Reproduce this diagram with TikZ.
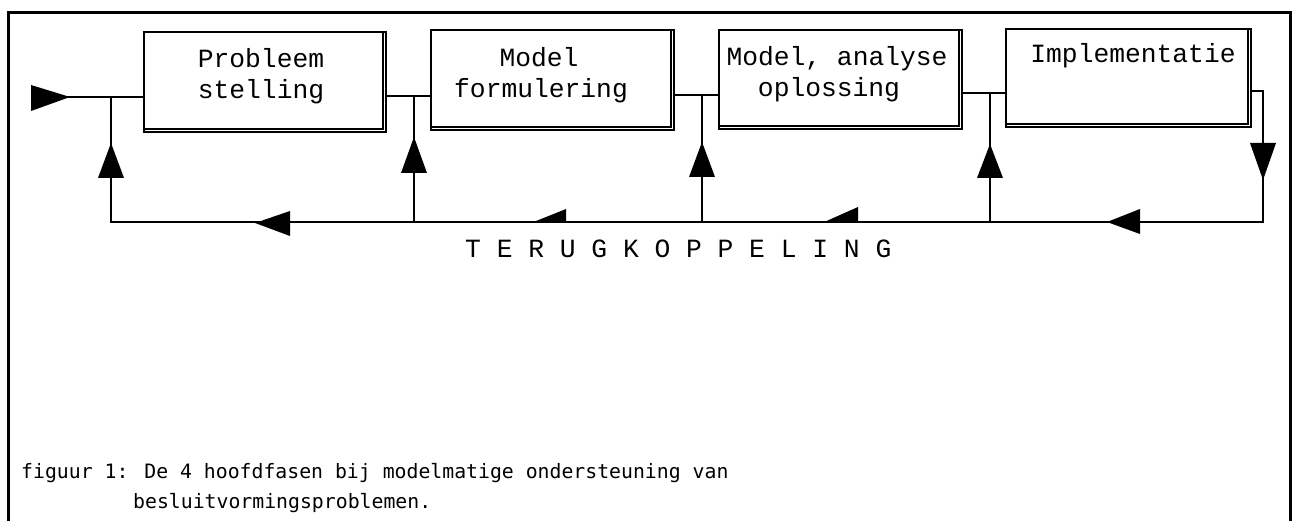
\documentclass[tikz,border=0pt]{standalone}
\usepackage{fontspec}
\newfontfamily\boxfont{Liberation Mono}
\newfontfamily\capfont{DejaVu Sans Mono}
\begin{document}
\begin{tikzpicture}[x=1pt,y=-1pt,
  box/.style={draw, line width=2pt, rectangle, anchor=north west, inner sep=0pt},
  conn/.style={line width=2pt},
  tri/.style={fill=black},
  btxt/.style={font=\boxfont\fontsize{26.3}{30}\selectfont, anchor=base, inner sep=0pt},
  ctxt/.style={font=\capfont\fontsize{19.8}{24}\selectfont, anchor=base west, inner sep=0pt}]
\useasboundingbox (0,0) rectangle (1293,521);
% frame
\draw[line width=3pt] (8,521) -- (8,13) -- (1290,13) -- (1290,521);
% boxes
\node[box, minimum width=242pt, minimum height=100pt] (b1) at (143,31) {};
\node[box, minimum width=243pt, minimum height=100pt] (b2) at (430,29) {};
\node[box, minimum width=243pt, minimum height=99pt] (b3) at (718,29) {};
\node[box, minimum width=245pt, minimum height=98pt] (b4) at (1005,28) {};
\foreach \b in {b1,b2,b3,b4}{
  \draw[line width=1.5pt] ([xshift=-4pt,yshift=-2pt]\b.north east) -- ([xshift=-4pt,yshift=4pt]\b.south east) -- ([xshift=2pt,yshift=4pt]\b.south west);
}
% texts
\node[btxt] (t1a) at (261,68) {Probleem};
\node[btxt] (t1b) at (261,99) {stelling};
\node[btxt] (t2a) at (539,67) {Model};
\node[btxt] (t2b) at (541,98) {formulering};
\node[btxt] (t3a) at (837,66) {Model, analyse};
\node[btxt] (t3b) at (829,97) {oplossing};
\node[btxt] (t4a) at (1133,63) {Implementatie};
% coordinates
\coordinate (in) at (31,97);
\coordinate (j1) at (111,97);
\coordinate (j2) at (414,96);
\coordinate (j3) at (702,95);
\coordinate (j4) at (990,93);
\coordinate (r1) at (1263,91);
\coordinate (r2) at (1263,222);
\coordinate (c1) at (111,222);
% connectors
\draw[conn] (in) -- (j1 -| b1.west);
\draw[conn] (b1.east |- j2) -- (j2 -| b2.west);
\draw[conn] (b2.east |- j3) -- (j3 -| b3.west);
\draw[conn] (b3.east |- j4) -- (j4 -| b4.west);
\draw[conn] (b4.east |- r1) -- (r1) -- (r2) -- (c1) -- (j1);
\draw[conn] (j2) -- (j2 |- c1);
\draw[conn] (j3) -- (j3 |- c1);
\draw[conn] (j4) -- (j4 |- c1);
% arrowheads
\fill[tri] (70,97) -- (31,85) -- (31,111) -- cycle;
\fill[tri] (111,143) -- (98,178) -- (124,178) -- cycle;
\fill[tri] (414,137) -- (401,173) -- (427,173) -- cycle;
\fill[tri] (702,142) -- (689,177) -- (715,177) -- cycle;
\fill[tri] (990,144) -- (977,178) -- (1003,178) -- cycle;
\fill[tri] (1263,180) -- (1250,143) -- (1276,143) -- cycle;
\fill[tri] (1107,222) -- (1140,209) -- (1140,234) -- cycle;
\fill[tri] (255,223) -- (290,211) -- (290,236) -- cycle;
\fill[tri] (531,223) -- (566,209) -- (566,223) -- cycle;
\fill[tri] (822,223) -- (858,207) -- (858,223) -- cycle;
% label
\node[btxt, anchor=base west] (fb) at (465,258) {T E R U G K O P P E L I N G};
% caption
\node[ctxt] (cap1) at (21,478) {figuur 1: De 4 hoofdfasen bij modelmatige ondersteuning van};
\node[ctxt] (cap2) at (133,508) {besluitvormingsproblemen.};
\end{tikzpicture}
\end{document}
